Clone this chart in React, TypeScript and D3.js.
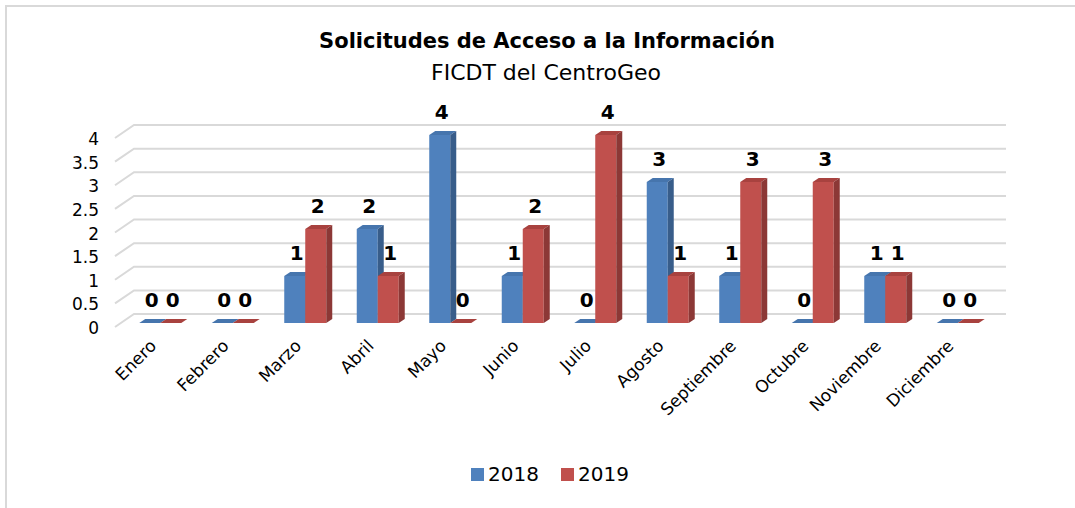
import React from "react";
import * as d3 from "d3";

const months = ["Enero","Febrero","Marzo","Abril","Mayo","Junio","Julio","Agosto","Septiembre","Octubre","Noviembre","Diciembre"];
const series2018 = [0,0,1,2,4,1,0,3,1,0,1,0];
const series2019 = [0,0,2,1,0,2,4,1,3,3,1,0];
const seriesNames = ["2018","2019"];
const yTicks = [0,0.5,1,1.5,2,2.5,3,3.5,4];

const W = 1075, H = 508;
const FONT = "'DejaVu Sans', sans-serif";

const colors = [
  { front: "#4f81bd", top: "#4675ad", side: "#385d8a" },
  { front: "#c0504d", top: "#a8423f", side: "#8c3836" },
];

export default function App() {
  const x = d3.scaleBand<string>().domain(months).range([124, 994]).paddingInner(0);
  const yFront = d3.scaleLinear().domain([0, 4]).range([327, 138]);
  const yBack = d3.scaleLinear().domain([0, 4]).range([314, 125]);
  const yBar = d3.scaleLinear().domain([0, 4]).range([323, 135]);
  const gridLeftFront = 115, gridLeftBack = 134, gridRight = 1006;
  const barW = 21, ddx = 6, ddy = -4;
  const all = [series2018, series2019];

  return (
    <svg width={W} height={H} style={{ position: "absolute", left: 0, top: 0, background: "#fff" }}>
      <rect x={6} y={6} width={1200} height={700} fill="#fff" stroke="#d9d9d9" strokeWidth={2} />
      <text x={547} y={48} textAnchor="middle" fontFamily={FONT} fontWeight="bold" fontSize={21} fill="#000">
        Solicitudes de Acceso a la Información
      </text>
      <text x={546} y={80} textAnchor="middle" fontFamily={FONT} fontSize={22} fill="#000">
        FICDT del CentroGeo
      </text>
      {yTicks.map((t) => (
        <g key={t}>
          <path
            d={`M${gridLeftFront},${yFront(t)}L${gridLeftBack},${yBack(t)}L${gridRight},${yBack(t)}`}
            fill="none" stroke="#d9d9d9" strokeWidth={2}
          />
          <text x={99} y={yFront(t) + 2} textAnchor="end" dominantBaseline="middle" fontFamily={FONT} fontSize={17} fill="#000">
            {t}
          </text>
        </g>
      ))}
      {months.map((m, i) => {
        const c = (x(m) as number) + x.bandwidth() / 2;
        return (
          <g key={m}>
            {all.map((s, k) => {
              const v = s[i];
              const x0 = c - barW + k * barW;
              const y0 = yBar(v);
              const yb = yBar(0);
              const col = colors[k];
              return (
                <g key={k}>
                  <rect x={x0} y={y0} width={barW} height={yb - y0} fill={col.front} />
                  <path d={`M${x0},${y0}L${x0 + ddx},${y0 + ddy}L${x0 + barW + ddx},${y0 + ddy}L${x0 + barW},${y0}Z`} fill={col.top} />
                  <path d={`M${x0 + barW},${y0}L${x0 + barW + ddx},${y0 + ddy}L${x0 + barW + ddx},${yb + ddy}L${x0 + barW},${yb}Z`} fill={col.side} />
                  <text x={x0 + barW / 2 + 2} y={y0 - 16} textAnchor="middle" fontFamily={FONT} fontWeight="bold" fontSize={20} fill="#000">
                    {v}
                  </text>
                </g>
              );
            })}
            <text
              transform={`translate(${c - 3},${347}) rotate(-45)`}
              textAnchor="end" fontFamily={FONT} fontSize={17} fill="#000"
            >
              {m}
            </text>
          </g>
        );
      })}
      {seriesNames.map((n, k) => (
        <g key={n} transform={`translate(${471 + k * 90},468)`}>
          <rect x={0} y={0} width={13} height={13} fill={colors[k].front} />
          <text x={17} y={7} dominantBaseline="middle" fontFamily={FONT} fontSize={20} fill="#000">{n}</text>
        </g>
      ))}
    </svg>
  );
}
